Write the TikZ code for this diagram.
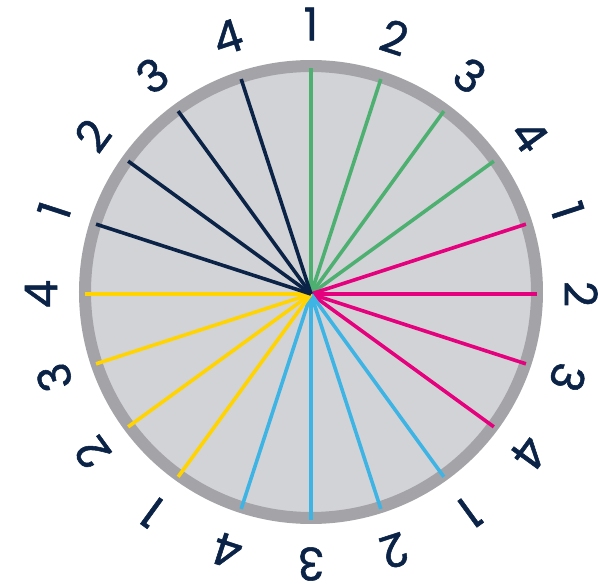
\documentclass[tikz,border=0pt]{standalone}
\usepackage{fontspec}
\setmainfont[FakeBold=1.2]{Poppins}
\definecolor{ring}{HTML}{A4A3A8}
\definecolor{disc}{HTML}{D2D3D7}
\definecolor{navy}{HTML}{0B2346}
\definecolor{grn}{HTML}{4DB071}
\definecolor{mag}{HTML}{E5007D}
\definecolor{cyn}{HTML}{3EB4E5}
\definecolor{yel}{HTML}{FFD400}
\begin{document}
\begin{tikzpicture}[x=1pt,y=1pt,
  spoke/.style={line width=3.6pt},
  lbl/.style={text=navy,font=\fontsize{45}{45}\selectfont,inner sep=0pt}]
\useasboundingbox (-311,-290) rectangle (287,294);
\node[circle,draw=ring,fill=disc,line width=12pt,minimum size=452pt,inner sep=0pt] (c) at (0,2) {};
\coordinate (o) at (0,0);
\foreach \a/\col [count=\i from 0] in {90/grn,72/grn,54/grn,36/grn,18/mag,0/mag,-18/mag,-36/mag,-54/cyn,-72/cyn,-90/cyn,-108/cyn,-126/yel,-144/yel,-162/yel,180/yel,162/navy,144/navy,126/navy,108/navy}{
  \coordinate (e\i) at (\a:226);
  \draw[spoke,draw=\col] (o) -- (e\i);
  \pgfmathtruncatemacro{\n}{mod(\i,4)+1}
  \node[lbl,rotate=\a-90] (l\i) at (\a:270) {\n};
}
\end{tikzpicture}
\end{document}
